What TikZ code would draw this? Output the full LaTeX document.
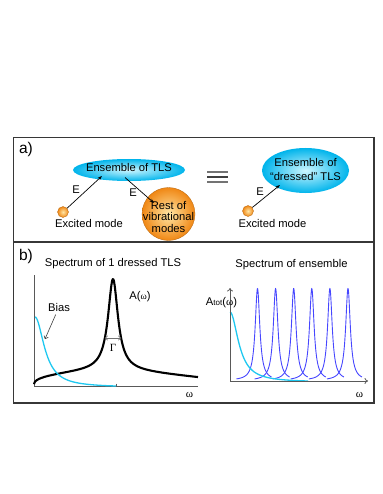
\documentclass[tikz,border=0pt]{standalone}
\usepackage{fontspec}
\setmainfont{Liberation Sans}
\newfontfamily\serifgreek{Liberation Serif}
\usetikzlibrary{shapes.geometric,arrows.meta}
\definecolor{cyanline}{RGB}{30,200,240}
\definecolor{bluepk}{RGB}{70,70,255}
\definecolor{framec}{RGB}{55,55,55}
\definecolor{ellin}{RGB}{205,246,255}
\definecolor{ellout}{RGB}{0,180,235}
\definecolor{orin}{RGB}{255,230,165}
\definecolor{orout}{RGB}{240,135,20}
\begin{document}
\begin{tikzpicture}[x=1pt,y=-1pt,
  lbl/.style={font=\fontsize{11.2}{12}\selectfont, inner sep=0pt},
  biglbl/.style={font=\fontsize{15.5}{16}\selectfont, inner sep=0pt},
  greek/.style={font=\serifgreek\fontsize{11}{12}\selectfont, inner sep=0pt},
  ensshape/.style={ellipse, inner sep=0pt, inner color=ellin, outer color=ellout},
  orangeball/.style={circle, inner sep=0pt, inner color=orin, outer color=orout, draw=orout!75!black, line width=0.3pt},
  conn/.style={line width=0.7pt, -{Stealth[length=4.5pt,width=3.2pt]}},
  axisline/.style={line width=0.8pt, draw=black!65},
  openarrow/.style={line width=0.6pt, draw=black!75, -{To[length=3pt,width=5pt]}},
  framestyle/.style={draw=framec, line width=1.5pt}
]
\useasboundingbox (0,0) rectangle (382,494);

% frame
\draw[framestyle] (13.5,137.5) rectangle (374,403);
\draw[framestyle] (13.5,242) -- (374,242);

% ---------- part a ----------
\node[biglbl] (la) at (26,149) {a)};

\node[ensshape, minimum width=112pt, minimum height=22pt] (ens) at (129,170) {};
\node[lbl] (ensT) at (129,167) {Ensemble of TLS};

\node[orangeball, minimum size=11pt] (exc1) at (63,212) {};
\node[lbl] (exc1T) at (89,223) {Excited mode};

\node[orangeball, minimum size=53pt] (rest) at (168.5,214) {};
\node[lbl, align=center, font=\fontsize{11.2}{11.8}\selectfont] (restT) at (168.5,217) {Rest of\\vibrational\\modes};

\coordinate (e1) at (102,176);
\draw[conn] (exc1) -- (e1);
\node[lbl] (E1) at (76,190) {E};

\coordinate (s2) at (125,177.5);
\coordinate (t2) at (154,203);
\draw[conn] (s2) -- (t2);
\node[lbl] (E2) at (133,193) {E};

% equivalence sign
\draw[black!55, line width=1.1pt] (207,172) -- (228,172);
\draw[black!75, line width=1.1pt] (207,177) -- (228,177);
\draw[black!55, line width=1.1pt] (207,182) -- (228,182);

\node[ensshape, minimum width=87pt, minimum height=45pt] (dens) at (305.5,170.5) {};
\node[lbl, align=center, font=\fontsize{11.2}{13.3}\selectfont] (densT) at (305.5,169.5) {Ensemble of\\“dressed” TLS};

\node[orangeball, minimum size=11pt] (exc2) at (248,211) {};
\node[lbl] (exc2T) at (272.5,223) {Excited mode};

\coordinate (e3) at (280,185);
\draw[conn] (exc2) -- (e3);
\node[lbl] (E3) at (260,192) {E};

% ---------- part b ----------
\node[biglbl] (lb) at (26,256) {b)};
\node[lbl] (t1) at (113,264) {Spectrum of 1 dressed TLS};
\node[lbl] (t2t) at (291.5,265) {Spectrum of ensemble};

% left plot
\coordinate (O1) at (34,386);
\coordinate (Y1) at (34,275);
\coordinate (X1) at (198,386);
\draw[axisline] (Y1) -- (O1) -- (X1);
\draw[axisline, line width=0.6pt] (116,383.5) -- (116,386);

\draw[black, line width=2.1pt, line join=round] plot[domain=34.05:198, samples=420]
  (\x, {386 - (90/(1+((\x-113)/6)*((\x-113)/6)) + (\x<113 ? 17*((\x-34)/79)^0.35 : 17-0.1*(\x-113)))});

\draw[cyanline, line width=1.3pt] plot[domain=35:116, samples=120]
  (\x, {386 - 69*(1/(1+((\x-35)/11)*((\x-35)/11)) - 0.0181)/0.9819});

\node[lbl] (bias) at (59,307) {Bias};
\coordinate (bt) at (45,339);
\draw[openarrow, shorten <=3.5pt] (bias) -- (bt);

\node[lbl] (Aw) at (140,297) {A({\serifgreek\fontsize{9.5}{10}\selectfont ω})};

\coordinate (g1) at (105,338);
\coordinate (g2) at (121,338);
\draw[line width=0.6pt, draw=black!55, {To[length=3pt,width=5pt]}-{To[length=3pt,width=5pt]}] (g1) -- (g2);
\node[greek] (gam) at (113,348) {Γ};
\node[greek] (w1) at (189.5,395) {ω};

% right plot
\foreach \p in {257.5,275.6,293.7,311.8,329.9,348.0}
  \draw[bluepk, line width=0.9pt] plot[domain=\p-21:\p+14, samples=140]
    (\x, {380.5 - 92/(1+((\x-\p)/2.8)*((\x-\p)/2.8))});

\draw[cyanline, line width=1.3pt] plot[domain=230:308, samples=120]
  (\x, {381 - 69*(1/(1+((\x-230)/10)*((\x-230)/10)) - 0.0162)/0.9838});

\coordinate (O2) at (230,381);
\coordinate (Y2) at (230,288);
\coordinate (X2) at (368,381);
\draw[axisline, -{To[length=3.5pt,width=6pt]}] (O2) -- (Y2);
\draw[axisline, -{To[length=3.5pt,width=6pt]}] (O2) -- (X2);

\node[lbl] (Atot) at (221.5,303) {A{\fontsize{8}{9}\selectfont tot}({\serifgreek\fontsize{11}{12}\selectfont ω})};
\node[greek] (w2) at (359.5,395) {ω};
\end{tikzpicture}
\end{document}
